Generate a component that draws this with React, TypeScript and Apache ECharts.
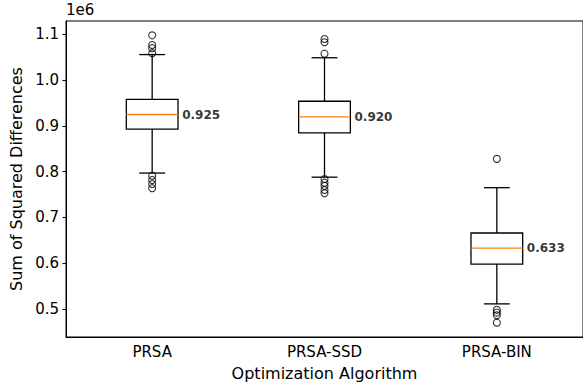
import React, { useEffect, useRef } from "react";
import * as echarts from "echarts";

const categories = ["PRSA", "PRSA-SSD", "PRSA-BIN"];
// values in units of 1e6
const whiskerLow = [0.797, 0.788, 0.511];
const q1 = [0.893, 0.885, 0.598];
const medians = [0.925, 0.920, 0.633];
const q3 = [0.958, 0.954, 0.666];
const whiskerHigh = [1.056, 1.049, 0.765];
const outliersPRSA = [1.098, 1.077, 1.070, 1.059, 0.791, 0.782, 0.773, 0.764];
const outliersSSD = [1.090, 1.083, 1.058, 0.784, 0.776, 0.769, 0.760, 0.753];
const outliersBIN = [0.828, 0.498, 0.492, 0.486, 0.470];
const yTicks = [0.5, 0.6, 0.7, 0.8, 0.9, 1.0, 1.1];

const FONT = "DejaVu Sans";
const TICK_FS = 15;
const TITLE_FS = 16;

export default function App() {
  const ref = useRef<HTMLDivElement>(null);
  useEffect(() => {
    if (!ref.current) return;
    const chart = echarts.init(ref.current, undefined, { renderer: "svg" });
    const boxData = categories.map((_, i) => [i, whiskerLow[i], q1[i], medians[i], q3[i], whiskerHigh[i]]);
    const outlierData: number[][] = [];
    [outliersPRSA, outliersSSD, outliersBIN].forEach((arr, i) => arr.forEach((v) => outlierData.push([i, v])));
    const lw = 1.3;
    chart.setOption({
      animation: false,
      backgroundColor: "#fff",
      textStyle: { fontFamily: FONT },
      grid: { left: 66, top: 21, width: 520.5, height: 316, show: true, borderColor: "#000", borderWidth: 1 },
      xAxis: {
        type: "category",
        data: categories,
        boundaryGap: true,
        axisLine: { lineStyle: { color: "#000", width: 1 } },
        axisTick: { alignWithLabel: true, length: 3.5, lineStyle: { color: "#000" } },
        axisLabel: { color: "#000", fontSize: TICK_FS, fontFamily: FONT, margin: 7 },
        name: "Optimization Algorithm",
        nameLocation: "middle",
        nameGap: 28,
        nameTextStyle: { color: "#000", fontSize: TITLE_FS, fontFamily: FONT },
      },
      yAxis: {
        type: "value",
        min: 0.4386,
        max: 1.1294,
        splitLine: { show: false },
        axisLine: { show: true, lineStyle: { color: "#000", width: 1 } },
        axisTick: { show: true, length: 3.5, customValues: yTicks, lineStyle: { color: "#000" } },
        axisLabel: {
          color: "#000",
          fontSize: TICK_FS,
          fontFamily: FONT,
          margin: 7,
          customValues: yTicks,
          formatter: (v: number) => v.toFixed(1),
        },
        name: "Sum of Squared Differences",
        nameLocation: "middle",
        nameGap: 41,
        nameRotate: 90,
        nameTextStyle: { color: "#000", fontSize: TITLE_FS, fontFamily: FONT },
      },
      graphic: [
        {
          type: "text",
          left: 66,
          top: 2,
          style: { text: "1e6", fontSize: TICK_FS, fontFamily: FONT, fill: "#000" },
        },
      ],
      series: [
        {
          type: "custom",
          data: boxData,
          renderItem: (params: any, api: any) => {
            const x = api.value(0);
            const band = api.size([1, 0])[0];
            const bw = band * 0.3;
            const cw = bw * 0.5;
            const lo = api.coord([x, api.value(1)]);
            const b1 = api.coord([x, api.value(2)]);
            const md = api.coord([x, api.value(3)]);
            const b3 = api.coord([x, api.value(4)]);
            const hi = api.coord([x, api.value(5)]);
            const cx = md[0];
            const ls = { stroke: "#000", lineWidth: lw, fill: null };
            return {
              type: "group",
              children: [
                { type: "line", shape: { x1: cx, y1: b1[1], x2: cx, y2: lo[1] }, style: ls },
                { type: "line", shape: { x1: cx, y1: b3[1], x2: cx, y2: hi[1] }, style: ls },
                { type: "line", shape: { x1: cx - cw / 2, y1: lo[1], x2: cx + cw / 2, y2: lo[1] }, style: ls },
                { type: "line", shape: { x1: cx - cw / 2, y1: hi[1], x2: cx + cw / 2, y2: hi[1] }, style: ls },
                {
                  type: "rect",
                  shape: { x: cx - bw / 2, y: b3[1], width: bw, height: b1[1] - b3[1] },
                  style: { stroke: "#000", lineWidth: lw, fill: "none" },
                },
                {
                  type: "line",
                  shape: { x1: cx - bw / 2, y1: md[1], x2: cx + bw / 2, y2: md[1] },
                  style: { stroke: "#ff7f0e", lineWidth: lw },
                },
              ],
            };
          },
        },
        {
          type: "scatter",
          data: outlierData,
          symbol: "circle",
          symbolSize: 7,
          itemStyle: { color: "rgba(0,0,0,0)", borderColor: "#000", borderWidth: 1.1 },
        },
        {
          type: "scatter",
          data: medians.map((m, i) => [i, m]),
          symbolSize: 0,
          itemStyle: { color: "rgba(0,0,0,0)" },
          label: {
            show: true,
            position: "right",
            distance: 30,
            formatter: (p: any) => p.value[1].toFixed(3),
            fontFamily: FONT,
            fontWeight: "bold",
            fontSize: 12,
            color: "#000",
          },
        },
      ],
    });
    return () => chart.dispose();
  }, []);
  return <div ref={ref} style={{ position: "fixed", left: 0, top: 0, width: 583, height: 387 }} />;
}
